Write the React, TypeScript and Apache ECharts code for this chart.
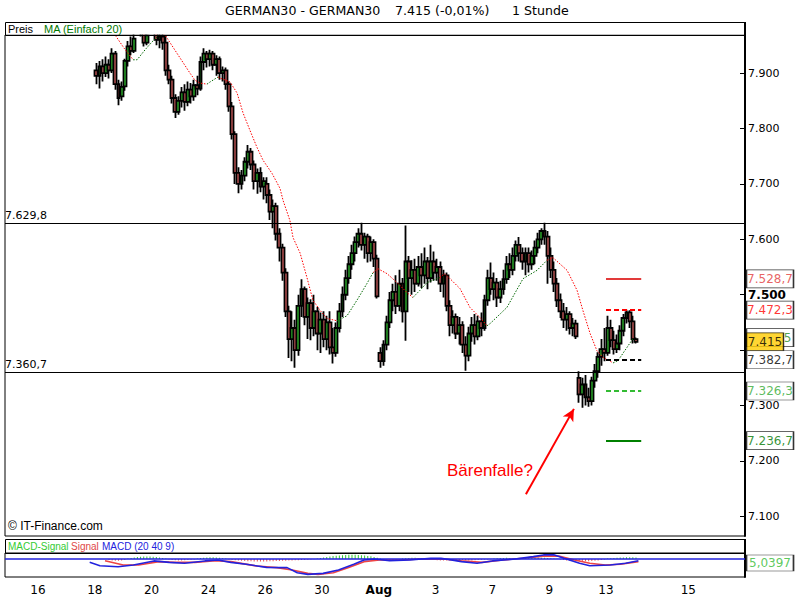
import React, { useEffect, useRef } from 'react';
import * as echarts from 'echarts';

// ---------- data ----------
// trading-day index: 16 Jul = 0, 17 = 1, 18 = 2, ... (weekends skipped)
const firstDay = 2; // 18 Jul
const barsPerDay = 9; // hourly bars per session

// [open, close, low, high]
const candles: number[][] = [
  // 18 Jul
  [7905, 7895, 7880, 7918], [7895, 7912, 7872, 7922], [7912, 7900, 7885, 7925], [7900, 7915, 7893, 7930], [7915, 7905, 7890, 7925],
  [7905, 7935, 7900, 7945], [7935, 7880, 7870, 7940], [7880, 7855, 7842, 7888], [7858, 7875, 7850, 7885],
  // 19 Jul
  [7876, 7922, 7868, 7926], [7922, 7948, 7912, 7958], [7948, 7940, 7932, 7966], [7940, 7962, 7936, 7980], [7978, 7992, 7974, 8005],
  [7990, 7972, 7966, 8000], [7972, 7955, 7948, 7985], [7955, 7968, 7950, 7982], [7975, 7990, 7972, 8002],
  // 20 Jul
  [7990, 7985, 7975, 8008], [7982, 7960, 7950, 7990], [7960, 7966, 7945, 7980], [7966, 7955, 7942, 7978], [7955, 7905, 7895, 7968],
  [7905, 7888, 7880, 7915], [7888, 7855, 7845, 7895], [7855, 7830, 7819, 7862], [7830, 7850, 7825, 7858],
  // 23 Jul
  [7850, 7865, 7838, 7875], [7865, 7848, 7832, 7880], [7848, 7870, 7840, 7885], [7870, 7858, 7845, 7882], [7858, 7878, 7850, 7888],
  [7878, 7872, 7860, 7895], [7872, 7920, 7868, 7930], [7920, 7935, 7905, 7945], [7935, 7925, 7910, 7940],
  // 24 Jul
  [7925, 7935, 7912, 7942], [7935, 7915, 7905, 7940], [7915, 7925, 7895, 7932], [7925, 7900, 7888, 7930], [7900, 7905, 7885, 7912],
  [7905, 7880, 7870, 7910], [7880, 7840, 7830, 7885], [7840, 7790, 7780, 7848], [7790, 7720, 7700, 7795],
  // 25 Jul
  [7720, 7700, 7683, 7730], [7700, 7715, 7690, 7725], [7715, 7740, 7705, 7748], [7740, 7758, 7728, 7770], [7758, 7735, 7725, 7765],
  [7735, 7705, 7690, 7742], [7705, 7720, 7682, 7728], [7720, 7695, 7685, 7730], [7695, 7705, 7672, 7712],
  // 26 Jul
  [7700, 7680, 7665, 7712], [7680, 7650, 7635, 7690], [7650, 7660, 7620, 7672], [7660, 7610, 7598, 7666], [7610, 7585, 7560, 7620],
  [7585, 7540, 7525, 7592], [7540, 7470, 7460, 7548], [7470, 7420, 7386, 7480], [7420, 7440, 7380, 7470],
  // 27 Jul
  [7440, 7400, 7368, 7455], [7400, 7480, 7390, 7500], [7480, 7510, 7460, 7528], [7510, 7460, 7445, 7515], [7460, 7485, 7420, 7495],
  [7485, 7440, 7418, 7492], [7440, 7470, 7425, 7500], [7470, 7430, 7400, 7478], [7430, 7455, 7395, 7468],
  // 30 Jul
  [7455, 7420, 7405, 7470], [7420, 7450, 7400, 7462], [7450, 7405, 7392, 7470], [7405, 7395, 7376, 7440], [7395, 7440, 7388, 7450],
  [7440, 7470, 7432, 7485], [7470, 7500, 7460, 7515], [7500, 7530, 7490, 7545], [7530, 7555, 7520, 7570],
  // 31 Jul
  [7555, 7575, 7545, 7590], [7575, 7595, 7560, 7605], [7595, 7610, 7585, 7620], [7610, 7590, 7580, 7630], [7590, 7605, 7565, 7612],
  [7605, 7575, 7558, 7610], [7575, 7595, 7560, 7605], [7595, 7565, 7550, 7600], [7565, 7497, 7493, 7572],
  // 1 Aug
  [7395, 7380, 7368, 7405], [7380, 7410, 7372, 7418], [7410, 7450, 7400, 7462], [7450, 7490, 7440, 7505], [7490, 7505, 7470, 7520],
  [7505, 7480, 7465, 7535], [7480, 7520, 7470, 7545], [7520, 7470, 7450, 7530], [7470, 7560, 7417, 7625],
  // 2 Aug
  [7560, 7530, 7505, 7570], [7530, 7545, 7500, 7562], [7545, 7520, 7505, 7565], [7520, 7550, 7515, 7570], [7550, 7535, 7512, 7575],
  [7535, 7560, 7520, 7585], [7560, 7530, 7510, 7568], [7530, 7560, 7522, 7590], [7560, 7540, 7525, 7578],
  // 3 Aug
  [7540, 7550, 7525, 7565], [7550, 7520, 7505, 7560], [7520, 7535, 7495, 7545], [7535, 7480, 7470, 7540], [7480, 7445, 7425, 7490],
  [7445, 7460, 7430, 7472], [7460, 7430, 7420, 7466], [7430, 7445, 7410, 7460], [7445, 7410, 7395, 7452],
  // 6 Aug
  [7410, 7390, 7363, 7425], [7390, 7430, 7380, 7442], [7430, 7445, 7415, 7460], [7445, 7425, 7410, 7465], [7425, 7452, 7418, 7462],
  [7452, 7440, 7425, 7468], [7440, 7490, 7435, 7500], [7490, 7530, 7480, 7545], [7530, 7510, 7500, 7558],
  // 7 Aug
  [7510, 7522, 7490, 7540], [7522, 7495, 7478, 7530], [7495, 7510, 7485, 7525], [7510, 7528, 7500, 7545], [7528, 7555, 7520, 7570],
  [7555, 7545, 7530, 7575], [7545, 7570, 7535, 7585], [7570, 7590, 7560, 7598], [7590, 7575, 7560, 7604],
  // 8 Aug
  [7575, 7560, 7545, 7585], [7560, 7575, 7535, 7585], [7575, 7555, 7540, 7585], [7555, 7570, 7545, 7580], [7570, 7585, 7555, 7598],
  [7585, 7600, 7575, 7612], [7600, 7615, 7590, 7620], [7615, 7605, 7590, 7630], [7605, 7570, 7520, 7615],
  // 9 Aug
  [7570, 7545, 7530, 7585], [7545, 7520, 7505, 7560], [7520, 7490, 7478, 7530], [7490, 7470, 7458, 7502], [7470, 7455, 7440, 7485],
  [7455, 7465, 7435, 7478], [7465, 7440, 7428, 7470], [7440, 7448, 7425, 7458], [7448, 7425, 7420, 7455],
  // 10 Aug
  [7350, 7320, 7305, 7362], [7320, 7338, 7296, 7350], [7338, 7315, 7300, 7355], [7315, 7308, 7298, 7332], [7308, 7345, 7300, 7352],
  [7345, 7362, 7332, 7375], [7362, 7388, 7350, 7396], [7388, 7402, 7372, 7420], [7402, 7395, 7380, 7440],
  // 13 Aug
  [7395, 7440, 7390, 7462], [7440, 7418, 7405, 7455], [7418, 7402, 7392, 7435], [7402, 7412, 7395, 7428], [7412, 7435, 7400, 7445],
  [7435, 7458, 7425, 7465], [7458, 7468, 7448, 7473], [7468, 7452, 7440, 7472], [7452, 7420, 7412, 7462],
  // 14 Aug
  [7420, 7415, 7412, 7423],
];

// MA (Einfach 20): [trading day, value, trend of following segment r=falling g=rising]
const maPoints: [number, number, string][] = [
  [2.54, 7981, 'r'], [2.71, 7969, 'r'], [3.03, 7945, 'r'], [3.35, 7924, 'g'], [3.49, 7924, 'g'], [3.77, 7942, 'g'],
  [4.01, 7956, 'g'], [4.19, 7965, 'g'], [4.33, 7974, 'r'], [4.47, 7969, 'r'], [4.89, 7936, 'r'], [5.35, 7900, 'r'],
  [5.53, 7887, 'r'], [5.70, 7882, 'r'], [5.95, 7880, 'g'], [6.06, 7884, 'g'], [6.34, 7893, 'r'], [6.41, 7891, 'r'],
  [6.76, 7884, 'r'], [7.01, 7864, 'r'], [7.22, 7828, 'r'], [7.46, 7797, 'r'], [7.71, 7766, 'r'], [7.92, 7743, 'r'],
  [8.24, 7719, 'r'], [8.52, 7692, 'r'], [8.63, 7670, 'r'], [8.87, 7634, 'r'], [8.98, 7603, 'r'], [9.23, 7575, 'r'],
  [9.47, 7531, 'r'], [9.68, 7490, 'r'], [9.93, 7472, 'r'], [10.18, 7457, 'r'], [10.53, 7453, 'g'], [10.88, 7462, 'g'],
  [11.23, 7490, 'g'], [11.58, 7520, 'g'], [11.80, 7540, 'r'], [11.97, 7547, 'r'], [12.29, 7538, 'r'], [12.64, 7522, 'r'],
  [12.99, 7504, 'r'], [13.20, 7495, 'g'], [13.45, 7508, 'g'], [13.70, 7522, 'g'], [14.15, 7531, 'r'], [14.33, 7538, 'r'],
  [14.86, 7511, 'r'], [15.21, 7477, 'r'], [15.56, 7459, 'r'], [15.81, 7444, 'g'], [15.92, 7448, 'g'], [16.51, 7477, 'g'],
  [17.08, 7529, 'g'], [17.57, 7544, 'g'], [17.92, 7562, 'r'], [18.13, 7567, 'r'], [18.63, 7544, 'r'], [18.98, 7508, 'r'],
  [19.19, 7471, 'r'], [19.44, 7430, 'r'], [19.68, 7399, 'r'], [19.89, 7387, 'r'], [20.25, 7377, 'g'], [20.42, 7381, 'g'],
  [20.74, 7405, 'g'], [20.95, 7421, 'g'],
];

// MACD (20 40 9): [trading day, value]
const macdLine: number[][] = [
  [1.82, -14], [2.18, -28], [2.82, -32], [3.36, -25], [4.08, -8], [4.62, -14], [5.16, -18], [5.88, -8], [6.34, -4],
  [6.79, -14], [7.33, -22], [8.05, -35], [8.77, -36], [9.13, -57], [9.5, -64], [10.04, -60], [10.58, -46], [11.12, -22],
  [11.48, -4], [11.84, 0], [12.38, -7], [13.1, -4], [13.83, 3], [14.19, 3], [14.91, -11], [15.46, -18], [16.0, -8],
  [16.72, -1], [17.44, 10], [17.8, 17], [18.16, 18], [18.52, 3], [19.07, -18], [19.43, -28], [20.15, -25], [20.69, -18],
  [21.14, -7],
];
const signalLine: number[][] = [
  [2.36, -7], [3.0, -25], [3.54, -25], [4.26, -11], [4.8, -14], [5.52, -14], [6.25, -7], [6.79, -11], [7.69, -29],
  [8.41, -36], [8.95, -46], [9.5, -60], [9.86, -64], [10.4, -57], [10.94, -35], [11.48, -11], [12.02, -4], [12.75, -4],
  [13.47, 0], [14.37, -1], [14.91, -7], [15.63, -14], [16.36, -4], [17.08, 3], [17.8, 12], [18.34, 12], [18.89, -4],
  [19.43, -18], [19.97, -25], [20.51, -22], [21.14, -11],
];
// MACD-Signal histogram, one value per candle
const macdHist: (number | null)[] = [
  null, null, null, null,
  -4, -6, -7, -7, -6, -4,
  2, 4, 6, 8, 9, 10, 10, 10, 9, 8, 6, 4, 2,
  -2, -4, -5, -6, -6, -5, -4, -3, -2,
  2, 4, 5, 6, 7, 7, 6, 5, 3, 2,
  -2, -4, -5, -6, -7, -8, -9, -9, -10, -10, -10, -10, -10, -9, -9, -8, -8, -7, -7, -6, -6, -5, -5, -4, -4, -3, -2, -1,
  2, 4, 6, 8, 10, 12, 14, 15, 16, 17, 18, 18, 18, 17, 16, 15, 13, 11, 8, 5, 2,
  -2, -3, -4, -4, -3, -2,
  2, 3, 4, 5, 5, 4, 3, 2,
  -2, -3, -4, -5, -6, -6, -6, -6, -5, -5, -4, -4, -5, -6, -6, -5, -4, -3, -2, -2, -1,
  2, 3, 4, 4, 5, 4, 3, 2, 3, 4, 5, 5, 6, 6, 6, 5, 5, 4, 3, 2, 1,
  -2, -4, -6, -7, -8, -9, -9, -10, -9, -9, -8, -7, -6, -4, -2,
  2, 3, 4, 5, 6, 6, 7, 7, 7, 6,
];

const supportResistance = [7629.8, 7360.7];
const pivotLevels = [7528.7, 7472.3, 7382.7, 7326.3, 7236.7]; // R2, R1, P, S1, S2
const pivotFromDay = 20.0;
const pivotToDay = 21.24;
const lastPrice = 7415;
const lastMA = 7422.5;
const lastMacdHist = 5.0397;
const arrowFrom = [17.18, 7140];
const arrowTo = [18.87, 7294];

const yTicks = [7100, 7200, 7300, 7400, 7500, 7600, 7700, 7800, 7900];
const yHiddenLabels = [7400];
const xTickDays = [0, 2, 4, 6, 8, 10, 12, 14, 16, 18, 20, 22.9];
const xTickLabels = ['16', '18', '20', '24', '26', '30', 'Aug', '3', '7', '9', '13', '15'];

// ---------- helpers ----------
const FONT = '"DejaVu Sans", Verdana, sans-serif';
const SANS = '"Liberation Sans", Arial, sans-serif';
const xMin = -1.162;
const xMax = 24.894;
const yMin = 7064.6;
const yMax = 7968.7;

function fmtDe(v: number, dec: number): string {
  const s = v.toFixed(dec);
  const [i, f] = s.split('.');
  const iS = i.replace(/\B(?=(\d{3})+(?!\d))/g, '.');
  return f ? iS + ',' + f : iS;
}
const barDay = (i: number) => firstDay + Math.floor(i / barsPerDay) + ((i % barsPerDay) + 0.5) / barsPerDay;

const pivotStyles = [
  { color: '#e23a3a', type: 'solid' },
  { color: '#ff0000', type: [5, 3] },
  { color: '#000000', type: [5, 3] },
  { color: '#33bb33', type: [5, 3] },
  { color: '#008000', type: 'solid' },
];
const pivotTextColors = ['#e23a3a', '#ff0000', '#000000', '#33aa33', '#007700'];

export default function App() {
  const ref = useRef<HTMLDivElement>(null);
  useEffect(() => {
    const chart = echarts.init(ref.current!, null, { renderer: 'svg', width: 800, height: 600 });

    const candleData = candles.map((c, i) => [barDay(i), c[0], c[1], c[2], c[3]]);
    const maRed = maPoints.map((p, k) =>
      p[2] === 'r' || (k > 0 && maPoints[k - 1][2] === 'r') ? [p[0], p[1]] : [p[0], '-']);
    const maGreen = maPoints.map((p, k) =>
      p[2] === 'g' || (k > 0 && maPoints[k - 1][2] === 'g') ? [p[0], p[1]] : [p[0], '-']);
    const histData = macdHist.map((v, i) => [barDay(i), v == null ? '-' : v]);

    const tagItem = (v: number, text: string, color: string, bg: string, w: number, align = 'center') => ({
      value: [xMax, v],
      symbol: 'rect',
      symbolSize: [w, 18],
      symbolOffset: [w / 2 + 1.5, 0],
      itemStyle: { color: bg, borderColor: '#000', borderWidth: 1 },
      label: {
        show: true,
        position: align === 'right' ? ['100%', '50%'] : 'inside',
        offset: align === 'right' ? [-3, 0] : [0, 0],
        align: align === 'right' ? 'right' : 'center',
        verticalAlign: 'middle',
        formatter: text, color,
        fontSize: 12, fontFamily: FONT,
      },
    });

    // the last-price box hides all but the final digit of the MA box
    const maText = fmtDe(lastMA, 1);
    const tags = [
      ...pivotLevels.slice(0, 2).map((v, k) => tagItem(v, fmtDe(v, 1), pivotTextColors[k], '#fff', 47)),
      tagItem(lastMA, maText.slice(-1), '#228822', '#fff', 47, 'right'),
      tagItem(lastPrice, fmtDe(lastPrice, 0), '#000', '#ffcc00', 37),
      ...pivotLevels.slice(2).map((v, k) => tagItem(v, fmtDe(v, 1), pivotTextColors[k + 2], '#fff', 47)),
    ];

    const option: any = {
      animation: false,
      backgroundColor: '#ffffff',
      grid: [
        { left: 5, top: 35, width: 740, height: 501, show: true, borderColor: '#000', borderWidth: 1 },
        { left: 5, top: 553, width: 740, height: 24, show: true, borderColor: '#000', borderWidth: 1 },
      ],
      xAxis: [
        { type: 'value', gridIndex: 0, min: xMin, max: xMax, show: false },
        {
          type: 'value', gridIndex: 1, min: xMin, max: xMax,
          axisLine: { show: false }, axisTick: { show: false }, splitLine: { show: false },
          axisLabel: {
            customValues: xTickDays,
            margin: 7,
            color: '#000',
            fontSize: 12,
            fontFamily: FONT,
            formatter: (v: number) => {
              const k = xTickDays.indexOf(v);
              const t = k >= 0 ? xTickLabels[k] : '';
              return t === 'Aug' ? '{b|Aug}' : t;
            },
            rich: { b: { fontWeight: 'bold', fontSize: 12, fontFamily: FONT, color: '#000' } },
          },
        },
      ],
      yAxis: [
        {
          type: 'value', gridIndex: 0, position: 'right', min: yMin, max: yMax,
          splitLine: { show: false },
          axisLine: { show: true, onZero: false, lineStyle: { color: '#000', width: 2 } },
          axisTick: { show: true, inside: true, length: 5, customValues: yTicks, lineStyle: { color: '#000' } },
          axisLabel: {
            customValues: yTicks.filter((t) => !yHiddenLabels.includes(t)),
            margin: 3,
            color: '#000',
            fontSize: 11,
            fontFamily: FONT,
            formatter: (v: number) => (v === 7500 ? '{b|' + fmtDe(v, 0) + '}' : fmtDe(v, 0)),
            rich: { b: { fontWeight: 'bold', fontSize: 12, fontFamily: FONT, color: '#000' } },
          },
        },
        {
          type: 'value', gridIndex: 1, position: 'right', min: -75, max: 25,
          splitLine: { show: false },
          axisLine: { show: true, onZero: false, lineStyle: { color: '#000', width: 2 } },
          axisTick: { show: false },
          axisLabel: { show: false },
        },
      ],
      series: [
        {
          type: 'candlestick',
          xAxisIndex: 0, yAxisIndex: 0,
          data: candleData,
          barWidth: 3.4,
          clip: true,
          itemStyle: {
            color: '#33cc33', color0: '#e06464',
            borderColor: '#000', borderColor0: '#000', borderWidth: 1.8,
          },
          markLine: {
            silent: true,
            symbol: 'none',
            animation: false,
            data: [
              ...supportResistance.map((v) => ({
                yAxis: v,
                lineStyle: { color: '#000', width: 1, type: 'solid' },
                label: {
                  show: true, position: 'insideStartTop', formatter: fmtDe(v, 1), color: '#000',
                  fontSize: 11, fontFamily: FONT, distance: [0, 2],
                },
              })),
              ...pivotLevels.map((v, k) => [
                { coord: [pivotFromDay, v], lineStyle: { color: pivotStyles[k].color, width: 2, type: pivotStyles[k].type }, label: { show: false } },
                { coord: [pivotToDay, v] },
              ]),
              [
                { coord: arrowFrom, symbol: 'none', lineStyle: { color: '#ff0000', width: 2, type: 'solid' }, label: { show: false } },
                { coord: arrowTo, symbol: 'arrow', symbolSize: [9, 12] },
              ],
            ],
          },
        },
        {
          type: 'line', xAxisIndex: 0, yAxisIndex: 0, data: maRed, showSymbol: false, symbol: 'none',
          connectNulls: false, lineStyle: { color: '#ff0000', width: 1, type: [1.5, 1.5] }, z: 3,
        },
        {
          type: 'line', xAxisIndex: 0, yAxisIndex: 0, data: maGreen, showSymbol: false, symbol: 'none',
          connectNulls: false, lineStyle: { color: '#006600', width: 1, type: [1.5, 1.5] }, z: 3,
        },
        {
          type: 'bar', xAxisIndex: 1, yAxisIndex: 1, data: histData, barWidth: 1,
          itemStyle: { color: (p: any) => (p.value[1] >= 0 ? '#33cc33' : '#ee5555') },
          markLine: {
            silent: true, symbol: 'none',
            data: [{ yAxis: 0, lineStyle: { color: '#2222dd', width: 1.5, type: 'solid' }, label: { show: false } }],
          },
        },
        {
          type: 'line', xAxisIndex: 1, yAxisIndex: 1, data: signalLine, showSymbol: false, symbol: 'none',
          lineStyle: { color: '#ee4444', width: 1.6 }, z: 3,
        },
        {
          type: 'line', xAxisIndex: 1, yAxisIndex: 1, data: macdLine, showSymbol: false, symbol: 'none',
          lineStyle: { color: '#2222dd', width: 1.6 }, z: 4,
        },
        {
          type: 'scatter', xAxisIndex: 0, yAxisIndex: 0, clip: false, silent: true, z: 10,
          data: tags,
        },
        {
          type: 'scatter', xAxisIndex: 1, yAxisIndex: 1, clip: false, silent: true, z: 10,
          data: [{
            value: [xMax, -17],
            symbol: 'rect', symbolSize: [47, 16], symbolOffset: [25, 0],
            itemStyle: { color: '#fff', borderColor: '#000', borderWidth: 1 },
            label: { show: true, position: 'inside', formatter: fmtDe(lastMacdHist, 4), color: '#33bb33', fontSize: 12, fontFamily: FONT },
          }],
        },
      ],
      graphic: [
        // white band above the price panel (candles above the scale are cut off there)
        { type: 'rect', z: 100, shape: { x: 0, y: 0, width: 800, height: 34.4 }, style: { fill: '#fff' } },
        { type: 'text', z: 101, x: 225, y: 10, style: { text: 'GERMAN30 - GERMAN30', fill: '#000', fontSize: 12.6, fontFamily: FONT, verticalAlign: 'middle' } },
        { type: 'text', z: 101, x: 395, y: 10, style: { text: '7.415 (-0,01%)', fill: '#000', fontSize: 12.6, fontFamily: FONT, verticalAlign: 'middle' } },
        { type: 'text', z: 101, x: 512, y: 10, style: { text: '1 Stunde', fill: '#000', fontSize: 12.6, fontFamily: FONT, verticalAlign: 'middle' } },
        { type: 'rect', z: 101, shape: { x: 5.5, y: 22.5, width: 740, height: 13 }, style: { fill: 'none', stroke: '#000', lineWidth: 1 } },
        { type: 'line', z: 101, shape: { x1: 745, y1: 22, x2: 745, y2: 36 }, style: { stroke: '#000', lineWidth: 2 } },
        { type: 'text', z: 101, x: 8, y: 29, style: { text: 'Preis', fill: '#000', fontSize: 11, fontFamily: SANS, verticalAlign: 'middle' } },
        { type: 'text', z: 101, x: 44, y: 29, style: { text: 'MA (Einfach 20)', fill: '#007700', fontSize: 11, fontFamily: SANS, verticalAlign: 'middle' } },
        { type: 'text', z: 101, x: 8, y: 526, style: { text: '© IT-Finance.com', fill: '#000', fontSize: 12, fontFamily: SANS, verticalAlign: 'middle' } },
        { type: 'text', z: 101, x: 447, y: 470, style: { text: 'Bärenfalle?', fill: '#ff0000', fontSize: 17, fontFamily: SANS, verticalAlign: 'middle' } },
        { type: 'rect', z: 101, shape: { x: 5.5, y: 539.5, width: 740, height: 14 }, style: { fill: 'none', stroke: '#000', lineWidth: 1 } },
        { type: 'line', z: 101, shape: { x1: 745, y1: 539, x2: 745, y2: 554 }, style: { stroke: '#000', lineWidth: 2 } },
        { type: 'text', z: 101, x: 8, y: 546, style: { text: 'MACD-Signal', fill: '#33cc33', fontSize: 10, fontFamily: SANS, verticalAlign: 'middle' } },
        { type: 'text', z: 101, x: 71, y: 546, style: { text: 'Signal', fill: '#e04848', fontSize: 10, fontFamily: SANS, verticalAlign: 'middle' } },
        { type: 'text', z: 101, x: 102, y: 546, style: { text: 'MACD (20 40 9)', fill: '#2222dd', fontSize: 10, fontFamily: SANS, verticalAlign: 'middle' } },
      ],
    };
    chart.setOption(option);
    return () => chart.dispose();
  }, []);
  return (
    <div
      ref={ref}
      style={{ position: 'absolute', left: 0, top: 0, width: 800, height: 600, background: '#fff' }}
    />
  );
}
